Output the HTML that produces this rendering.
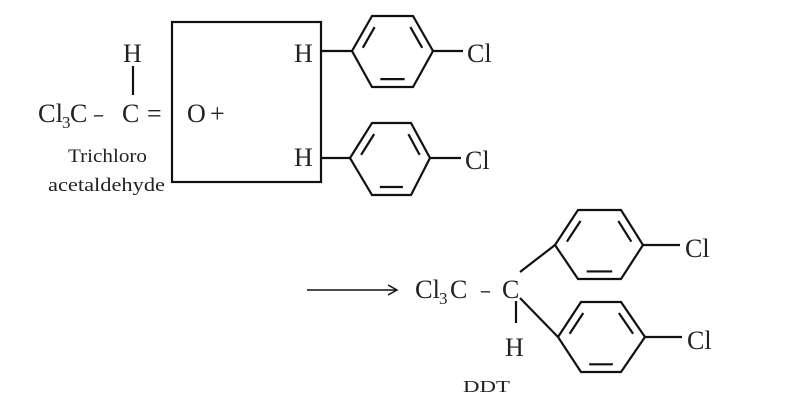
<!DOCTYPE html>
<html><head><meta charset="utf-8"><style>
html,body{margin:0;padding:0;background:#fff}
svg{display:block}
text{font-family:"Liberation Serif",serif;fill:#222}
</style></head><body>
<svg id="s" width="808" height="418" viewBox="0 0 808 418" xmlns="http://www.w3.org/2000/svg">
<g stroke="#111" stroke-width="2.2" fill="none" id="g">
<rect x="172" y="22" width="149" height="160"/>
<line x1="133" y1="66" x2="133" y2="95"/>
<line x1="321" y1="51" x2="352" y2="51"/>
<line x1="433" y1="51" x2="463" y2="51"/>
<line x1="321" y1="158" x2="350" y2="158"/>
<line x1="430" y1="158" x2="461" y2="158"/>
<line x1="307" y1="290" x2="396" y2="290" stroke-width="1.5"/>
<polyline points="388,285 397,290 388,295" stroke-width="1.5"/>
<line x1="520" y1="272" x2="555" y2="245"/>
<line x1="520" y1="298" x2="558" y2="337"/>
<line x1="516" y1="301" x2="516" y2="323"/>
<line x1="643" y1="245" x2="680" y2="245"/>
<line x1="645" y1="337" x2="682" y2="337"/>
</g>
<g font-size="26">
<text x="123" y="62">H</text>
<text x="38" y="122" textLength="25" lengthAdjust="spacingAndGlyphs">Cl</text>
<text x="62" y="128" font-size="17">3</text>
<text x="70" y="122">C</text>
<text x="94" y="122" textLength="9" lengthAdjust="spacingAndGlyphs">–</text>
<text x="122" y="122">C</text>
<text x="147" y="122">=</text>
<text x="187" y="122">O</text>
<text x="210" y="122">+</text>
<text x="294" y="62">H</text>
<text x="294" y="166">H</text>
<text x="467" y="62">Cl</text>
<text x="465" y="169">Cl</text>
<text x="415" y="298" textLength="25" lengthAdjust="spacingAndGlyphs">Cl</text>
<text x="439" y="304" font-size="17">3</text>
<text x="450" y="298">C</text>
<text x="481" y="298" textLength="9" lengthAdjust="spacingAndGlyphs">–</text>
<text x="502" y="298">C</text>
<text x="505" y="356">H</text>
<text x="685" y="257">Cl</text>
<text x="687" y="349">Cl</text>
</g>
<g font-size="19">
<text x="68" y="162" textLength="79" lengthAdjust="spacingAndGlyphs">Trichloro</text>
<text x="48" y="191" textLength="117" lengthAdjust="spacingAndGlyphs">acetaldehyde</text>
</g>
<text x="463" y="392" font-size="17" textLength="47" lengthAdjust="spacingAndGlyphs">DDT</text>
</svg>
<script>
var g=document.getElementById('g');
function ring(v){
 var cx=0,cy=0;v.forEach(function(p){cx+=p[0]/6;cy+=p[1]/6});
 var s='';for(var i=0;i<6;i++)s+=v[i][0]+','+v[i][1]+' ';
 var pg=document.createElementNS('http://www.w3.org/2000/svg','polygon');pg.setAttribute('points',s);g.appendChild(pg);
 [[0,1],[2,3],[4,5]].forEach(function(e){
  var A=v[e[0]],B=v[e[1]],k=0.78;
  var a=[cx+k*(A[0]-cx),cy+k*(A[1]-cy)],b=[cx+k*(B[0]-cx),cy+k*(B[1]-cy)];
  var t=0.12,x1=a[0]+(b[0]-a[0])*t,y1=a[1]+(b[1]-a[1])*t,x2=b[0]-(b[0]-a[0])*t,y2=b[1]-(b[1]-a[1])*t;
  var l=document.createElementNS('http://www.w3.org/2000/svg','line');
  l.setAttribute('x1',x1);l.setAttribute('y1',y1);l.setAttribute('x2',x2);l.setAttribute('y2',y2);g.appendChild(l);
 });
}
ring([[352,51],[372,16],[413,16],[433,51],[413,87],[372,87]]);
ring([[350,158],[372,123],[411,123],[430,158],[411,195],[372,195]]);
ring([[555,245],[578,210],[621,210],[643,245],[621,279],[578,279]]);
ring([[558,337],[581,302],[621,302],[645,337],[621,372],[581,372]]);
</script>
</body></html>
